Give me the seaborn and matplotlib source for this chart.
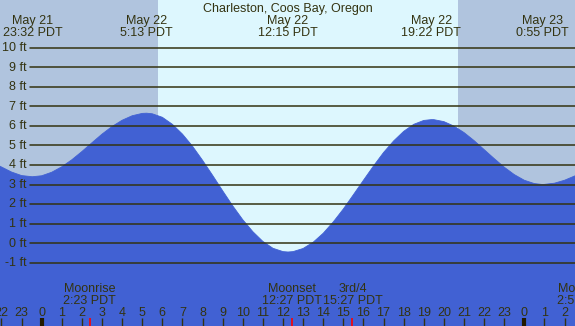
import matplotlib
matplotlib.use("Agg")
import matplotlib.pyplot as plt
import seaborn as sns

sns.set_style("white")
plt.rcParams['font.family'] = ['Liberation Sans', 'DejaVu Sans']

# tide height readings (hours from May 22 00:00 PDT, feet)
hours = [-2.1, -1.5, -1.0, -0.47, 0, 0.5, 1, 1.5, 2, 2.5, 3, 3.5, 4, 4.5, 5, 5.22,
         5.5, 6, 6.5, 7, 7.5, 8, 8.5, 9, 9.5, 10, 10.5, 11, 11.5, 12, 12.25,
         12.5, 13, 13.5, 14, 14.5, 15, 15.5, 16, 16.5, 17, 17.5, 18, 18.5, 19, 19.37,
         19.5, 20, 20.5, 21, 21.5, 22, 22.5, 23, 23.5, 24, 24.5, 24.92, 25.5, 26, 26.6]
heights = [3.95, 3.64, 3.46, 3.40, 3.45, 3.63, 3.91, 4.27, 4.69, 5.14, 5.58, 5.97, 6.29, 6.52, 6.64, 6.65,
           6.62, 6.44, 6.08, 5.58, 4.96, 4.24, 3.47, 2.68, 1.91, 1.20, 0.59, 0.09, -0.26, -0.43, -0.45,
           -0.43, -0.27, 0.05, 0.51, 1.09, 1.75, 2.48, 3.22, 3.95, 4.64, 5.23, 5.72, 6.08, 6.28, 6.32,
           6.32, 6.22, 5.99, 5.66, 5.25, 4.79, 4.33, 3.89, 3.51, 3.22, 3.05, 3.00, 3.07, 3.22, 3.48]

# high / low tide events
tide_hours = [-0.467, 5.217, 12.25, 19.367, 24.917]
tide_days = ['May 21', 'May 22', 'May 22', 'May 22', 'May 23']
tide_times = ['23:32 PDT', '5:13 PDT', '12:15 PDT', '19:22 PDT', '0:55 PDT']

# moon events
moon_hours = [2.383, 12.45, 15.45, 26.95]
moon_names = ['Moonrise', 'Moonset', '3rd/4', 'Moonrise']
moon_times = ['2:23 PDT', '12:27 PDT', '15:27 PDT', '2:57 PDT']

sunrise, sunset = 5.79, 20.70
ft_levels = list(range(-1, 11))
hour_ticks = list(range(-2, 27))

NIGHT = '#b0c4de'
DAY = '#ddf7fe'
WATER = '#4161d3'
INK = '#333311'

x0, x1 = -2.074, 26.52
y0, y1 = -4.235, 12.44

fig = plt.figure(figsize=(5.75, 3.26), dpi=100)
ax = fig.add_axes([0, 0, 1, 1])
ax.set_xlim(x0, x1)
ax.set_ylim(y0, y1)
ax.axis('off')

ax.axvspan(x0, sunrise, color=NIGHT, lw=0, zorder=0)
ax.axvspan(sunrise, sunset, color=DAY, lw=0, zorder=0)
ax.axvspan(sunset, x1, color=NIGHT, lw=0, zorder=0)

ax.fill_between(hours, heights, y0, color=WATER, lw=0, zorder=1)
sns.lineplot(x=hours, y=heights, color=WATER, lw=0.6, ax=ax, zorder=1)
ax.set_xlim(x0, x1)
ax.set_ylim(y0, y1)
ax.axis('off')

for ft in ft_levels:
    ax.axhline(ft, xmin=29.5 / 575, xmax=1, color=INK, lw=1.1, zorder=2)
    ax.text(27 / 575, ft - 0.17, f'{ft} ft', transform=ax.get_yaxis_transform(),
            ha='right', va='baseline', fontsize=9, color=INK, zorder=3)

xt = ax.get_xaxis_transform()
ax.text(0.5, 1 - 11.7 / 326, 'Charleston, Coos Bay, Oregon', transform=ax.transAxes,
        ha='center', va='baseline', fontsize=9, color=INK)
for hr, d, tm in zip(tide_hours, tide_days, tide_times):
    ax.text(hr, 1 - 24 / 326, d, transform=xt, ha='center', va='baseline', fontsize=9, color=INK)
    ax.text(hr, 1 - 35.7 / 326, tm, transform=xt, ha='center', va='baseline', fontsize=9, color=INK)

for hr, nm, tm in zip(moon_hours, moon_names, moon_times):
    ax.text(hr, 1 - 292 / 326, nm, transform=xt, ha='center', va='baseline', fontsize=9, color=INK)
    ax.text(hr, 1 - 304 / 326, tm, transform=xt, ha='center', va='baseline', fontsize=9, color=INK)

for hr in hour_ticks:
    ax.text(hr, 1 - 316.3 / 326, str(hr % 24), transform=xt, ha='center', va='baseline',
            fontsize=9, color=INK)
    if hr % 24 == 0:
        ax.vlines(hr, 0, 8 / 326, transform=xt, color='#221a00', lw=3, zorder=4)
    else:
        ax.vlines(hr, 0, 8 / 326, transform=xt, color=INK, lw=1, zorder=4)
ax.vlines(moon_hours, 0, 8 / 326, transform=xt, color='red', lw=1.2, zorder=5)

fig.savefig('out.png', dpi=100)
